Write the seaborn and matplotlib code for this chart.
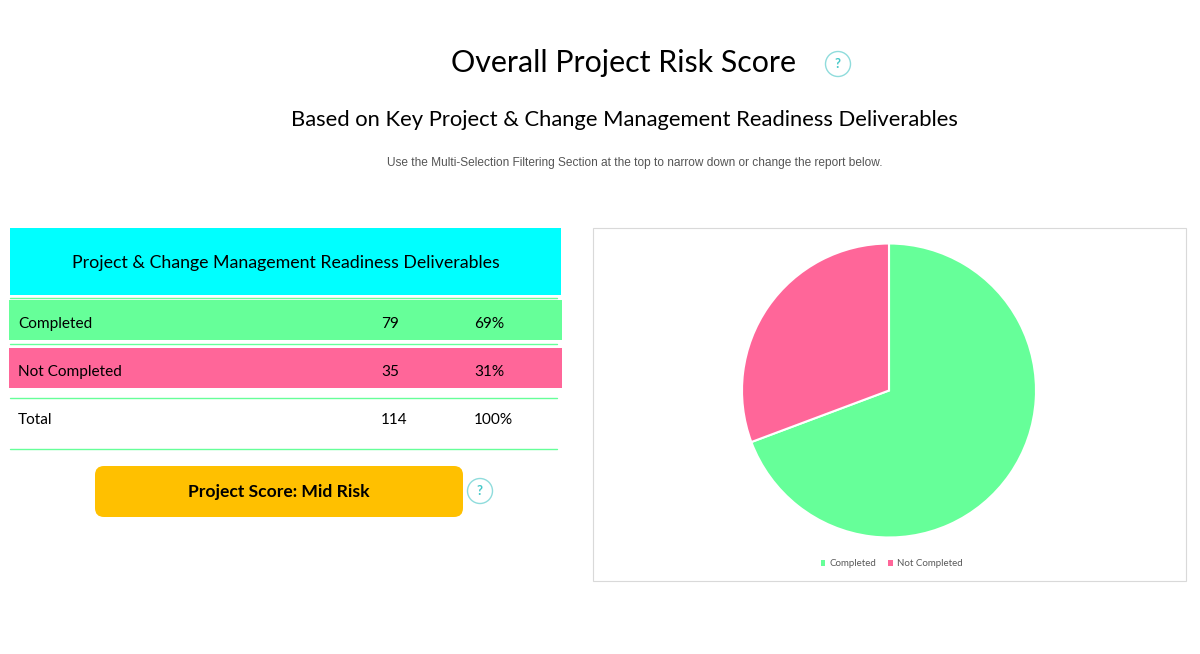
# Overall project risk score panel

import matplotlib.pyplot as plt
import pandas as pd
import seaborn as sns
from matplotlib.patches import Circle, FancyBboxPatch, Patch, Rectangle

sns.set_theme(style='white')
plt.rcParams['font.family'] = ['Lato', 'DejaVu Sans']

green = '#66FF99'
pink = '#FF6699'
cyan = '#00FFFF'
amber = '#FFC000'
teal = '#8FDCDC'

deliverables = pd.DataFrame({
    'status': ['Completed', 'Not Completed'],
    'count': [79, 35],
    'share': ['69%', '31%'],
})

fig = plt.figure(figsize=(12, 6.54), dpi=100)

# Full figure axes in pixel units for the report layout
canvas = fig.add_axes([0, 0, 1, 1])
canvas.set_xlim(0, 1200)
canvas.set_ylim(654, 0)
canvas.axis('off')

canvas.text(623.5, 63, 'Overall Project Risk Score', fontsize=21.9, ha='center', va='center', color='black')
canvas.text(624, 119.5, 'Based on Key Project & Change Management Readiness Deliverables',
            fontsize=15.85, ha='center', va='center', color='black')
canvas.text(635, 163, 'Use the Multi-Selection Filtering Section at the top to narrow down or change the report below.',
            fontsize=8.6, ha='center', va='center', color='#555555', family=['Liberation Sans'])


def help_badge(x, y, r):
    canvas.add_patch(Circle((x, y), r, facecolor='white', edgecolor=teal, linewidth=1))
    canvas.text(x, y, '?', fontsize=9.5, ha='center', va='center', color='#45C8C8', fontweight='bold')


help_badge(838, 64, 12.5)
help_badge(480, 491, 12.5)

# Table header
canvas.add_patch(Rectangle((10, 228), 551, 67, facecolor=cyan, edgecolor='none'))
canvas.text(285.5, 263, 'Project & Change Management Readiness Deliverables', fontsize=12.8,
            ha='center', va='center', color='black')
canvas.plot([10, 557], [297.5, 297.5], color=green, linewidth=1)

# Table rows
row_tops = [300, 348]
row_colors = [green, pink]
for top, color, row in zip(row_tops, row_colors, deliverables.itertuples()):
    canvas.add_patch(Rectangle((9, top), 553, 40, facecolor=color, edgecolor='none'))
    canvas.text(18, top + 24, row.status, fontsize=11.1, va='center', color='black')
    canvas.text(381, top + 24, str(row.count), fontsize=11.1, va='center', color='black')
    canvas.text(474, top + 24, row.share, fontsize=11.1, va='center', color='black')
canvas.plot([10, 557], [343.5, 343.5], color=green, linewidth=1)

total = deliverables['count'].sum()
canvas.plot([10, 557], [397.5, 397.5], color=green, linewidth=1)
canvas.text(18, 420, 'Total', fontsize=11.1, va='center', color='black')
canvas.text(381, 420, str(total), fontsize=11.1, va='center', color='black')
canvas.text(474, 420, '100%', fontsize=11.1, va='center', color='black')
canvas.plot([10, 557], [448.5, 448.5], color=green, linewidth=1)

# Score button
canvas.add_patch(FancyBboxPatch((95, 466), 368, 51, boxstyle='round,pad=0,rounding_size=9',
                                facecolor=amber, edgecolor='none'))
canvas.text(279, 492.5, 'Project Score: Mid Risk', fontsize=12.6, fontweight='bold',
            ha='center', va='center', color='black')

# Chart frame
canvas.add_patch(Rectangle((593, 228), 593, 353, facecolor='white', edgecolor='#D9D9D9', linewidth=0.8))

# Pie chart
pie_ax = fig.add_axes([(889 - 149) / 1200, 1 - (390.5 + 149) / 654, 298 / 1200, 298 / 654])
wedges, _ = pie_ax.pie(deliverables['count'], colors=row_colors, startangle=90, counterclock=False,
                       wedgeprops={'edgecolor': 'white', 'linewidth': 1.5})
pie_ax.set_xlim(-149 / 147, 149 / 147)
pie_ax.set_ylim(-149 / 147, 149 / 147)

# Legend uses plain swatches, the wedge edge would eat into them
handles = [Patch(facecolor=c, edgecolor='none') for c in row_colors]
fig.legend(handles, deliverables['status'], loc='center', bbox_to_anchor=(891.5 / 1200, 1 - 564 / 654),
           ncol=2, frameon=False, fontsize=7, handlelength=0.5, handleheight=0.5, handletextpad=0.4,
           columnspacing=1.2, labelcolor='#595959')

fig.savefig('out.png', dpi=100)
